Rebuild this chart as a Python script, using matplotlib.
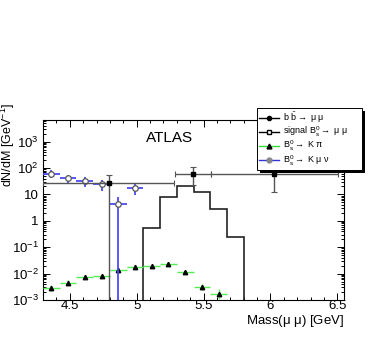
import numpy as np
import matplotlib
matplotlib.use("Agg")
import matplotlib.pyplot as plt
from matplotlib.lines import Line2D
from matplotlib.patches import Rectangle
from matplotlib.transforms import IdentityTransform
from matplotlib.ticker import FixedLocator, FixedFormatter, LogLocator, NullFormatter, MultipleLocator

plt.rcParams['font.family'] = ['Liberation Sans', 'DejaVu Sans']
plt.rcParams['mathtext.fontset'] = 'custom'
plt.rcParams['mathtext.rm'] = 'Liberation Sans'
plt.rcParams['mathtext.it'] = 'Liberation Sans:italic'

# ---- data ----
# b bbar -> mu mu
bb_mass = [4.79, 5.42, 6.03]
bb_xerr = [0.49, 0.137, 0.477]
bb_val = [26.3, 57.7, 57.7]
bb_err_lo = [26.3, 35.0, 45.7]
bb_err_hi = [28.0, 54.3, 39.8]

# signal Bs -> mu mu (histogram)
sig_edges = [5.05, 5.175, 5.3, 5.425, 5.55, 5.675, 5.8]
sig_val = [0.55, 8.2, 20.8, 12.6, 2.73, 0.237]

# Bs -> K pi
kpi_mass = [4.3625, 4.4875, 4.6125, 4.7375, 4.8625, 4.9875, 5.1125, 5.2375,
            5.3625, 5.4875, 5.6125]
kpi_val = [0.00292, 0.00452, 0.00764, 0.0081, 0.0137, 0.0182, 0.0199, 0.0237,
           0.0118, 0.00303, 0.00169]
kpi_err_lo = [0.0007, 0.0009, 0.0010, 0.0010, 0.0015, 0.0018, 0.0019, 0.0022,
              0.0012, 0.0007, 0.0006]
kpi_err_hi = [0.0008, 0.0011, 0.0010, 0.0010, 0.0015, 0.0018, 0.0019, 0.0022,
              0.0012, 0.0009, 0.0009]
kpi_xerr = 0.0625

# Bs -> K mu nu
kmn_mass = [4.3625, 4.4875, 4.6125, 4.7375, 4.8625, 4.9875]
kmn_val = [59.0, 40.7, 33.0, 24.2, 4.2, 17.9]
kmn_err_lo = [18.0, 13.0, 13.4, 10.4, 4.2, 8.4]
kmn_err_hi = [25.0, 13.7, 11.5, 11.0, 3.6, 9.8]
kmn_xerr = 0.0625

xticks = [4.5, 5, 5.5, 6, 6.5]
xticklabels = ['4.5', '5', '5.5', '6', '6.5']
yticks = [1e-3, 1e-2, 1e-1, 1, 10, 1e2, 1e3]
yticklabels = [r'$\mathregular{10^{-3}}$', r'$\mathregular{10^{-2}}$',
               r'$\mathregular{10^{-1}}$', '1', '10',
               r'$\mathregular{10^{2}}$', r'$\mathregular{10^{3}}$']

# ---- figure ----
W, H = 392, 338
fig = plt.figure(figsize=(W / 100, H / 100), dpi=100)
ax = fig.add_axes([43 / W, 1 - 300 / H, (344 - 43) / W, (300 - 120) / H])
ax.set_yscale('log')
ax.set_xlim(4.3, 6.55)
ax.set_ylim(1e-3, 6600)

ax.stairs(sig_val, sig_edges, baseline=1e-9, color='#222222', lw=1.2, zorder=2)

ax.errorbar(kpi_mass, kpi_val, yerr=[kpi_err_lo, kpi_err_hi], xerr=kpi_xerr,
            fmt='^', ms=3.2, mfc='black', mec='black', ecolor='#55ee55',
            elinewidth=1.0, capsize=0, zorder=3)

ax.errorbar(kmn_mass, kmn_val, yerr=[kmn_err_lo, kmn_err_hi], xerr=kmn_xerr,
            fmt='o', ms=4, mfc='white', mec='#555555', mew=0.9, ecolor='#4a4aff',
            elinewidth=1.3, capsize=0, zorder=4)

ax.errorbar(bb_mass, bb_val, yerr=[bb_err_lo, bb_err_hi], xerr=bb_xerr,
            fmt='s', ms=3.2, mfc='black', mec='black', ecolor='#555555',
            elinewidth=1.0, capsize=2, capthick=0.8, zorder=5)

ax.xaxis.set_major_locator(FixedLocator(xticks))
ax.xaxis.set_major_formatter(FixedFormatter(xticklabels))
ax.xaxis.set_minor_locator(MultipleLocator(0.1))
ax.yaxis.set_major_locator(FixedLocator(yticks))
ax.yaxis.set_major_formatter(FixedFormatter(yticklabels))
ax.yaxis.set_minor_locator(LogLocator(base=10, subs=np.arange(2, 10)))
ax.yaxis.set_minor_formatter(NullFormatter())

ax.tick_params(which='both', direction='in', top=True, right=True,
               labelsize=9.5, width=0.7, colors='black')
ax.tick_params(which='major', length=5)
ax.tick_params(which='minor', length=2.5)
ax.tick_params(axis='x', pad=0.3)
ax.tick_params(axis='y', pad=3)
for s in ax.spines.values():
    s.set_linewidth(0.8)

fig.text(344 / W, 1 - 321 / H, r'Mass($\mathregular{\mu}$ $\mathregular{\mu}$) [GeV]',
         ha='right', va='center', fontsize=9.5)
fig.text(8 / W, 1 - 103 / H, r'dN/dM [GeV$^{\mathregular{-1}}$]', rotation=90,
         ha='center', va='top', fontsize=9)
fig.text(170 / W, 1 - 138 / H, 'ATLAS', ha='center', va='center', fontsize=11)

handles = [
    Line2D([], [], color='black', lw=1, marker='o', ms=3, mfc='black'),
    Line2D([], [], color='black', lw=1, marker='s', ms=3.5, mfc='white'),
    Line2D([], [], color='#33dd33', lw=1, marker='^', ms=3.5, mfc='black', mec='black'),
    Line2D([], [], color='#3333dd', lw=1, marker='o', ms=3.5, mfc='#888888', mec='#888888'),
]
labels = [
    r'b $\mathregular{\bar{b}}$$\rightarrow$ $\mathregular{\mu}$ $\mathregular{\mu}$',
    r'signal $\mathregular{B_s^0}$$\rightarrow$ $\mathregular{\mu}$ $\mathregular{\mu}$',
    r'$\mathregular{B_s^0}$$\rightarrow$ K $\mathregular{\pi}$',
    r'$\mathregular{B_s^0}$$\rightarrow$ K $\mathregular{\mu}$ $\mathregular{\nu}$',
]
leg = fig.legend(handles, labels, loc='upper left',
                 bbox_to_anchor=(257 / W, 1 - 164 / H, (362 - 257) / W, (164 - 108) / H),
                 bbox_transform=fig.transFigure, mode='expand', borderaxespad=0,
                 fontsize=6.5, handlelength=2.2, handletextpad=0.4, labelspacing=0.0,
                 borderpad=0.25, fancybox=False, edgecolor='black', framealpha=1,
                 shadow=False)
leg.get_frame().set_linewidth(0.7)
leg.set_zorder(10)

fig.canvas.draw()
bb = leg.get_window_extent()
shadow = Rectangle((bb.x0 + 3, bb.y0 - 3), bb.width, bb.height, transform=IdentityTransform(),
                   facecolor='black', edgecolor='none', zorder=9)
fig.patches.append(shadow)

fig.savefig('out.png', dpi=100)
